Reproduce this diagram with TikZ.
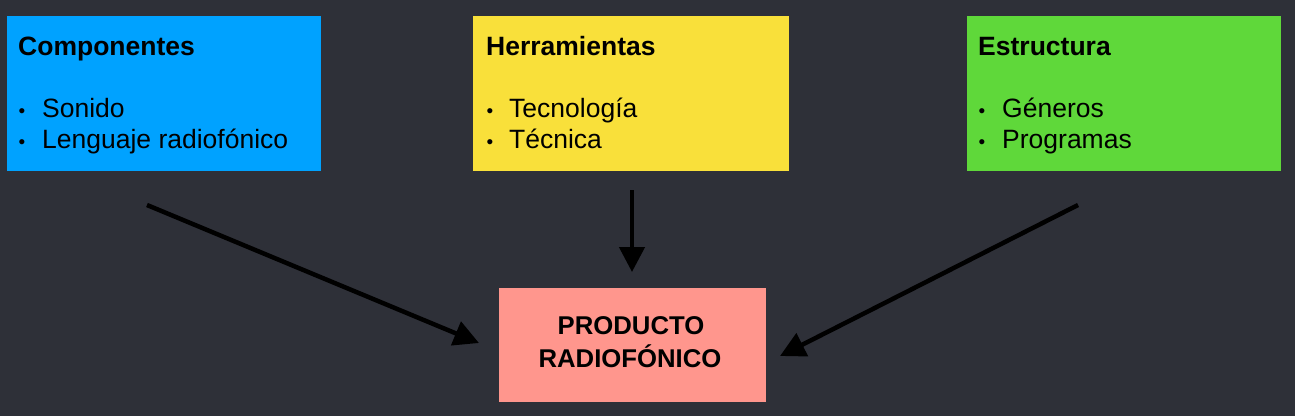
\documentclass[tikz,border=0pt]{standalone}
\usepackage{fontspec}
\setmainfont{Liberation Sans}
\usetikzlibrary{arrows.meta}
\definecolor{bg}{HTML}{2E3038}
\definecolor{cblue}{HTML}{00A2FF}
\definecolor{cyellow}{HTML}{F9E03A}
\definecolor{cgreen}{HTML}{5FD83A}
\definecolor{cpink}{HTML}{FF968D}
\begin{document}
\begin{tikzpicture}[x=1pt,y=-1pt,
  box/.style={rectangle, draw=none, inner sep=0pt, anchor=north west},
  titletext/.style={inner sep=0pt, anchor=base west, font=\fontsize{26.5}{31}\selectfont\bfseries},
  itemtext/.style={inner sep=0pt, anchor=base west, font=\fontsize{26.5}{31}\selectfont},
  bullettext/.style={inner sep=0pt, anchor=base, font=\fontsize{19}{22}\selectfont},
  prodtext/.style={inner sep=0pt, anchor=base, font=\fontsize{25.7}{33}\selectfont\bfseries},
  arr/.style={line width=4.5pt, black, -{Triangle[length=25pt,width=25pt]}}]
\fill[bg] (0,0) rectangle (1295,416);
\useasboundingbox (0,0) rectangle (1295,416);

% boxes
\node[box, fill=cblue, minimum width=314pt, minimum height=155pt] (comp) at (7,16) {};
\node[box, fill=cyellow, minimum width=316pt, minimum height=155pt] (herr) at (473,16) {};
\node[box, fill=cgreen, minimum width=314pt, minimum height=155pt] (estr) at (967,16) {};
\node[box, fill=cpink, minimum width=267pt, minimum height=114pt] (prod) at (499,288) {};

% Componentes
\node[titletext] (compT) at (18,55) {Componentes};
\node[bullettext] (compB1) at (22,117) {•};
\node[itemtext] (compI1) at (42,117) {Sonido};
\node[bullettext] (compB2) at (22,148) {•};
\node[itemtext] (compI2) at (42,148) {Lenguaje radiofónico};

% Herramientas
\node[titletext] (herrT) at (486,55) {Herramientas};
\node[bullettext] (herrB1) at (490,117) {•};
\node[itemtext] (herrI1) at (509,117) {Tecnología};
\node[bullettext] (herrB2) at (490,148) {•};
\node[itemtext] (herrI2) at (509,148) {Técnica};

% Estructura
\node[titletext] (estrT) at (978,55) {Estructura};
\node[bullettext] (estrB1) at (982,117) {•};
\node[itemtext] (estrI1) at (1002,117) {Géneros};
\node[bullettext] (estrB2) at (982,148) {•};
\node[itemtext] (estrI2) at (1002,148) {Programas};

% Producto
\node[prodtext] (prodT1) at (631,334) {PRODUCTO};
\node[prodtext] (prodT2) at (630,367) {RADIOFÓNICO};

% arrows
\coordinate (a1s) at (147,205);
\coordinate (a1e) at (479,343);
\coordinate (a2s) at (632,190);
\coordinate (a2e) at (632,272);
\coordinate (a3s) at (1078,205);
\coordinate (a3e) at (780,356);
\draw[arr] (a1s) -- (a1e);
\draw[arr] (a2s) -- (a2e);
\draw[arr] (a3s) -- (a3e);
\end{tikzpicture}
\end{document}
